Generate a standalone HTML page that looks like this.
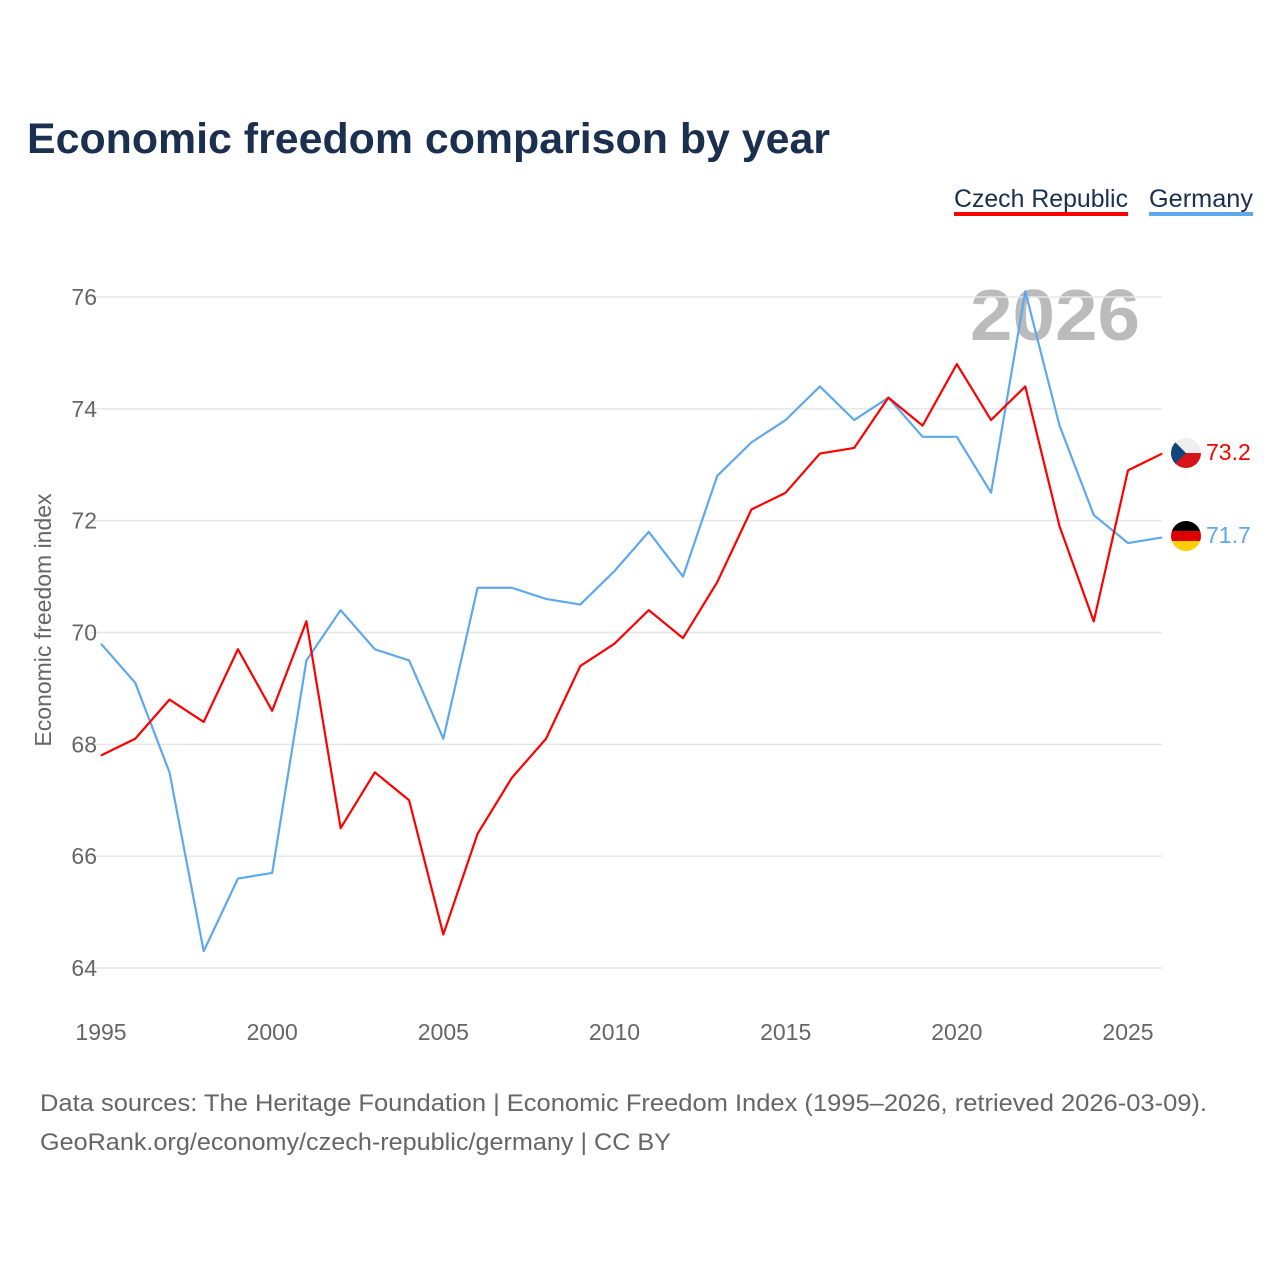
<!DOCTYPE html>
<html><head><meta charset="utf-8">
<style>
body{margin:0;background:#fff;font-family:"Liberation Sans",sans-serif;}
#wrap{position:relative;width:1280px;height:1280px;overflow:hidden;}
</style></head>
<body>
<div id="wrap">
<svg id="chart" width="1280" height="1280">
  <text x="27" y="153" font-size="43" font-weight="bold" fill="#1b2f4f" textLength="803" lengthAdjust="spacingAndGlyphs">Economic freedom comparison by year</text>
  <g>
    <text x="954" y="207" font-size="25" fill="#1b2f4f" textLength="174" lengthAdjust="spacingAndGlyphs">Czech Republic</text>
    <rect x="954" y="212" width="174" height="4" fill="#ff0000"/>
  </g>
  <g>
    <text x="1149" y="207" font-size="25" fill="#1b2f4f" textLength="104" lengthAdjust="spacingAndGlyphs">Germany</text>
    <rect x="1149" y="212" width="104" height="4" fill="#5ea8ec"/>
  </g>
  <text x="970" y="340" font-size="72" font-weight="bold" fill="#bbbbbb" textLength="170" lengthAdjust="spacingAndGlyphs">2026</text>
  <g id="grid"></g>
  <g id="xt"></g>
  <text transform="translate(51,620) rotate(-90)" font-size="23" fill="#666" text-anchor="middle">Economic freedom index</text>
  <g id="lines"></g>
  <g>
    <clipPath id="cz"><circle cx="1186" cy="453" r="15"/></clipPath>
    <g clip-path="url(#cz)"><rect x="1171" y="438" width="30" height="15" fill="#eee"/><rect x="1171" y="453" width="30" height="15" fill="#d7141a"/><polygon points="1171,438 1186,453 1171,468" fill="#11457e"/></g>
  </g>
  <g>
    <clipPath id="de"><circle cx="1186" cy="536" r="15"/></clipPath>
    <g clip-path="url(#de)"><rect x="1171" y="521" width="30" height="10" fill="#000"/><rect x="1171" y="531" width="30" height="10" fill="#dd0000"/><rect x="1171" y="541" width="30" height="10" fill="#ffce00"/></g>
  </g>
  <text x="1206" y="460" font-size="23" fill="#ff0000">73.2</text>
  <text x="1206" y="543" font-size="23" fill="#5ea8ec">71.7</text>
  <text x="40" y="1111" font-size="24" fill="#666" textLength="1167" lengthAdjust="spacingAndGlyphs">Data sources: The Heritage Foundation | Economic Freedom Index (1995–2026, retrieved 2026-03-09).</text>
  <text x="40" y="1150" font-size="24" fill="#666" textLength="631" lengthAdjust="spacingAndGlyphs">GeoRank.org/economy/czech-republic/germany | CC BY</text>
</svg>
</div>
<script>
const years=[1995,1996,1997,1998,1999,2000,2001,2002,2003,2004,2005,2006,2007,2008,2009,2010,2011,2012,2013,2014,2015,2016,2017,2018,2019,2020,2021,2022,2023,2024,2025,2026];
const czech=[67.8,68.1,68.8,68.4,69.7,68.6,70.2,66.5,67.5,67.0,64.6,66.4,67.4,68.1,69.4,69.8,70.4,69.9,70.9,72.2,72.5,73.2,73.3,74.2,73.7,74.8,73.8,74.4,71.9,70.2,72.9,73.2];
const germany=[69.8,69.1,67.5,64.3,65.6,65.7,69.5,70.4,69.7,69.5,68.1,70.8,70.8,70.6,70.5,71.1,71.8,71.0,72.8,73.4,73.8,74.4,73.8,74.2,73.5,73.5,72.5,76.1,73.7,72.1,71.6,71.7];
const yTicks=[64,66,68,70,72,74,76];
const xTicks=[1995,2000,2005,2010,2015,2020,2025];
const NS="http://www.w3.org/2000/svg";
const xs=y=>101+(y-1995)*(1128-101)/30;
const ys=v=>297+(76-v)*(968-297)/12;
function mk(t,a,p){const e=document.createElementNS(NS,t);for(const k in a)e.setAttribute(k,a[k]);p.appendChild(e);return e;}
const grid=document.getElementById('grid');
yTicks.forEach(v=>{
  const l=mk('line',{x1:90,x2:1162,y1:ys(v),y2:ys(v),stroke:'#e6e6e6','stroke-width':1.5},grid);
  
  
  const t=mk('text',{x:97,y:ys(v)+8,'font-size':23,fill:'#666','text-anchor':'end'},grid);
  t.textContent=v;
  
  
});
const xt=document.getElementById('xt');
xTicks.forEach(y=>{
  const t=mk('text',{x:xs(y),y:1040,'font-size':23,fill:'#666','text-anchor':'middle'},xt);
  t.textContent=y;
  
  
});
const lines=document.getElementById('lines');
[[germany,'#5ea8ec','germany-line'],[czech,'#ff0000','czech-line']].forEach(([d,c,n])=>{
  const p=mk('polyline',{points:d.map((v,i)=>xs(years[i])+','+ys(v)).join(' '),fill:'none',stroke:c,'stroke-width':2.2,'stroke-linejoin':'round'},lines);
  
  
});
</script>
</body></html>
